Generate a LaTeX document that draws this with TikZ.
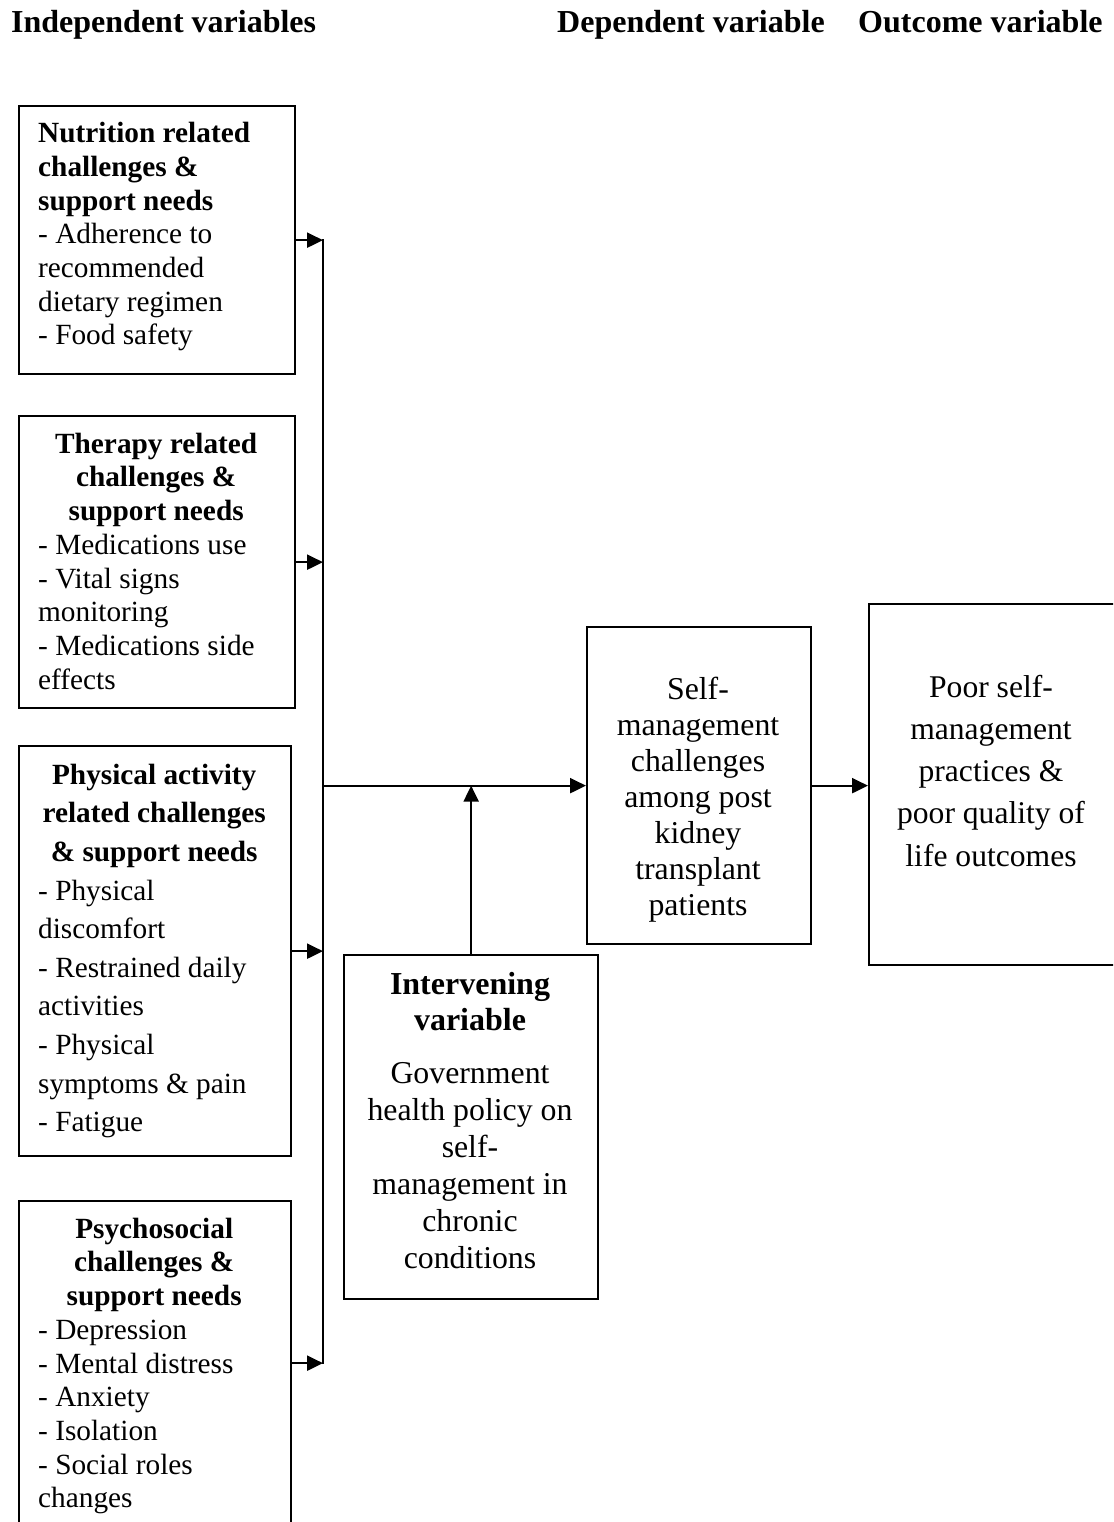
\documentclass[tikz,border=0pt]{standalone}
\usepackage{fontspec}
\setmainfont{Liberation Serif}
\usetikzlibrary{arrows.meta}
\newcommand{\fs}[2]{\fontsize{#1}{#2}\selectfont}
\newcommand{\lead}{\rule{0pt}{26pt}}
\begin{document}
\begin{tikzpicture}[x=1pt,y=-1pt,
  box/.style={draw, line width=2.3pt, inner sep=0pt, anchor=north west},
  txt/.style={inner sep=0pt, anchor=north west},
  ctxt/.style={inner sep=0pt, anchor=north},
  hdr/.style={inner sep=0pt, anchor=base west, font=\fs{32}{36}\bfseries},
  arr/.style={line width=2.3pt, -{Triangle[length=16pt,width=15pt]}},
  ln/.style={line width=2.3pt, line cap=rect}]
\useasboundingbox (0,0) rectangle (1113,1522);
\clip (0,0) rectangle (1113,1522);

% headers
\node[hdr] (h1) at (11,33) {Independent variables};
\node[hdr] (h2) at (557,33) {Dependent variable};
\node[hdr] (h3) at (858,33) {Outcome variable};

% boxes
\node[box, minimum width=276pt, minimum height=268pt] (nut) at (18,105) {};
\node[box, minimum width=276pt, minimum height=292pt] (ther) at (18,415) {};
\node[box, minimum width=272pt, minimum height=410pt] (phys) at (18,745) {};
\node[box, minimum width=272pt, minimum height=324pt] (psy) at (18,1200) {};
\node[box, minimum width=254pt, minimum height=344pt] (interv) at (343,954) {};
\node[box, minimum width=224pt, minimum height=317pt] (dep) at (586,626) {};
\node[box, minimum width=246pt, minimum height=361pt] (out) at (868,603) {};

% texts
\node[txt] (nuttxt) at (38,116.5) {\parbox[t]{250pt}{\fs{29.3}{33.7}\raggedright
  \lead\textbf{Nutrition related}\\
  \textbf{challenges \&}\\
  \textbf{support needs}\\
  - Adherence to\\
  recommended\\
  dietary regimen\\
  - Food safety}};

\node[txt] (thertxt) at (38,427) {\parbox[t]{236pt}{\fs{29.3}{33.7}%
  {\centering\bfseries\lead Therapy related\\challenges \&\\support needs\par}%
  \raggedright
  - Medications use\\
  - Vital signs\\
  monitoring\\
  - Medications side\\
  effects}};

\node[txt] (phystxt) at (38,758) {\parbox[t]{232pt}{\fs{29.3}{38.6}%
  {\centering\bfseries\lead Physical activity\\related challenges\\\& support needs\par}%
  \raggedright
  - Physical\\
  discomfort\\
  - Restrained daily\\
  activities\\
  - Physical\\
  symptoms \& pain\\
  - Fatigue}};

\node[txt] (psytxt) at (38,1212) {\parbox[t]{232pt}{\fs{29.3}{33.7}%
  {\centering\bfseries\lead Psychosocial\\challenges \&\\support needs\par}%
  \raggedright
  - Depression\\
  - Mental distress\\
  - Anxiety\\
  - Isolation\\
  - Social roles\\
  changes}};

\node[ctxt] (intervtxt) at (470,968) {\parbox[t]{250pt}{\centering
  {\fs{32}{36}\bfseries\lead Intervening\\variable\par}%
  \vspace{16pt}%
  \fs{31.8}{37}Government\\
  health policy on\\
  self-\\
  management in\\
  chronic\\
  conditions}};

\node[ctxt] (deptxt) at (698,673) {\parbox[t]{220pt}{\centering\fs{31.8}{36}%
  \lead Self-\\
  management\\
  challenges\\
  among post\\
  kidney\\
  transplant\\
  patients}};

\node[ctxt] (outtxt) at (991,671) {\parbox[t]{236pt}{\centering\fs{31.6}{42.2}%
  \lead Poor self-\\
  management\\
  practices \&\\
  poor quality of\\
  life outcomes}};

% connectors
\coordinate (busx) at (323,0);
\draw[ln] (nut.east -| busx) -- (psy.east -| busx);
\draw[arr] (nut.east) -- (nut.east -| busx);
\draw[arr] (ther.east) -- (ther.east -| busx);
\draw[arr] (phys.east) -- (phys.east -| busx);
\draw[arr] (psy.east) -- (psy.east -| busx);
\draw[arr] (dep.west -| busx) -- (dep.west);
\draw[arr] (interv.north) -- (interv.north |- dep.west);
\draw[arr] (dep.east) -- (dep.east -| out.west);
\end{tikzpicture}
\end{document}
